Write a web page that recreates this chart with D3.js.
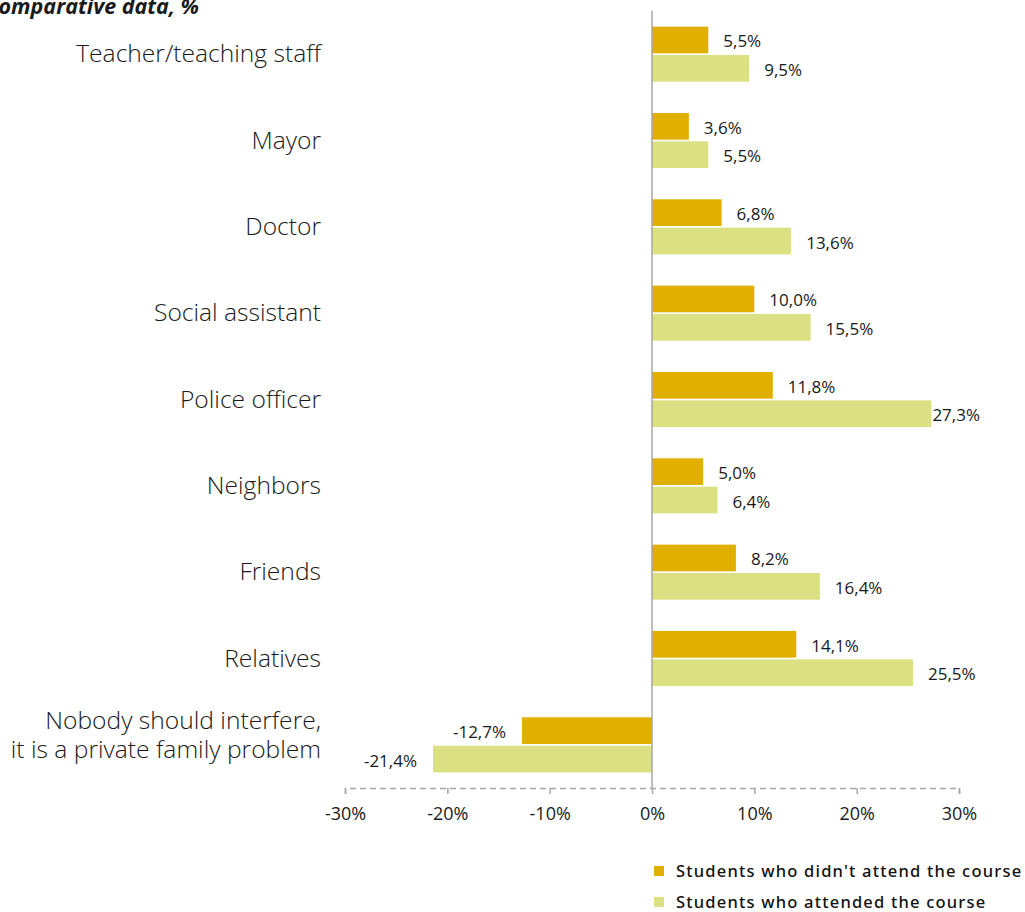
<!DOCTYPE html>
<html>
<head>
<meta charset="utf-8">
<script src="https://cdn.jsdelivr.net/npm/d3@7"></script>
<style>
  html, body { margin: 0; padding: 0; background: #ffffff; }
  svg { display: block; }
</style>
</head>
<body>
<svg id="chart" width="1025" height="912"></svg>
<script>
// Who should step in: share of answers by group of students
const categories = [
  "Teacher/teaching staff",
  "Mayor",
  "Doctor",
  "Social assistant",
  "Police officer",
  "Neighbors",
  "Friends",
  "Relatives",
  "Nobody should interfere,\nit is a private family problem"
];
const seriesNames = [
  "Students who didn't attend the course",
  "Students who attended the course"
];
const notAttended = [5.5, 3.6, 6.8, 10.0, 11.8, 5.0, 8.2, 14.1, -12.7];
const attended = [9.5, 5.5, 13.6, 15.5, 27.3, 6.4, 16.4, 25.5, -21.4];
const tickValues = [-30, -20, -10, 0, 10, 20, 30];
const colors = ["#E0AF00", "#DBE083"];
const title = "Comparative data, %";

const svg = d3.select("#chart");
const fontMain = "'Open Sans', 'Noto Sans', sans-serif";

const x = d3.scaleLinear().domain([-30, 30]).range([345, 959]);
const y = d3.scaleBand().domain(categories).range([11, 788]).padding(0);
const ySeries = d3.scaleBand().domain(seriesNames).range([0, y.bandwidth()])
  .paddingInner(0.06).paddingOuter(0.55);

const rows = categories.map((c, i) => ({ cat: c, values: [notAttended[i], attended[i]] }));

// title (runs off the left edge)
svg.append("text")
  .attr("x", 199).attr("y", 14)
  .attr("text-anchor", "end")
  .style("font-family", fontMain)
  .style("font-weight", 700)
  .style("font-style", "italic")
  .style("font-size", "21.5px")
  .attr("fill", "#1a1a1a")
  .text(title);

// bars
const groups = svg.append("g").selectAll("g.row")
  .data(rows).join("g")
  .attr("class", "row")
  .attr("transform", d => `translate(0,${y(d.cat)})`);

groups.selectAll("rect")
  .data(d => d.values.map((v, k) => ({ v, s: seriesNames[k], k })))
  .join("rect")
  .attr("x", d => x(Math.min(0, d.v)))
  .attr("width", d => Math.abs(x(d.v) - x(0)))
  .attr("y", d => ySeries(d.s))
  .attr("height", ySeries.bandwidth())
  .attr("fill", d => colors[d.k]);

// value labels
const fmt = v => d3.format(".1f")(v).replace(".", ",").replace("−", "-") + "%";
const labelRight = 980;
groups.selectAll("text.val")
  .data(d => d.values.map((v, k) => ({ v, s: seriesNames[k], k })))
  .join("text")
  .attr("class", "val")
  .style("font-family", fontMain)
  .style("font-size", "17px")
  .attr("fill", "#1a1a1a")
  .attr("y", d => ySeries(d.s) + ySeries.bandwidth() / 2 + 7.5)
  .text(d => fmt(d.v))
  .each(function (d) {
    const t = d3.select(this);
    const w = this.getComputedTextLength();
    if (d.v >= 0) {
      let xs = x(d.v) + 15;
      if (xs + w > labelRight) xs = Math.max(x(d.v), labelRight - w);
      t.attr("x", xs).attr("text-anchor", "start");
    } else {
      t.attr("x", x(d.v) - 16).attr("text-anchor", "end");
    }
  });

// category labels
svg.append("g").selectAll("text")
  .data(categories).join("text")
  .attr("text-anchor", "end")
  .style("font-family", fontMain)
  .style("font-weight", 300)
  .style("font-size", "24.6px")
  .attr("fill", "#1a1a1a")
  .each(function (c) {
    const lines = c.split("\n");
    const cy = y(c) + y.bandwidth() / 2;
    const lh = 29;
    const first = lines.length === 1 ? cy + 8 : cy - 16;
    d3.select(this).selectAll("tspan")
      .data(lines).join("tspan")
      .attr("x", 321)
      .attr("y", (l, i) => first + i * lh)
      .text(l => l);
  });

// zero line
svg.append("line")
  .attr("x1", x(0)).attr("x2", x(0))
  .attr("y1", 11).attr("y2", 788)
  .attr("stroke", "#A6A6A6").attr("stroke-width", 1.5);

// x axis
const xAxis = d3.axisBottom(x)
  .tickValues(tickValues)
  .tickSize(6)
  .tickPadding(13)
  .tickFormat(d => d + "%");

const ax = svg.append("g")
  .attr("transform", "translate(0,788)")
  .call(xAxis);
ax.select(".domain")
  .attr("stroke", "#A6A6A6")
  .attr("stroke-width", 1.5)
  .attr("stroke-dasharray", "6,4");
ax.selectAll(".tick line").attr("stroke", "#A6A6A6").attr("stroke-width", 1.5);
ax.selectAll(".tick text")
  .style("font-family", fontMain)
  .style("font-size", "18px")
  .attr("fill", "#1a1a1a")
  .text(d => (d < 0 ? "-" + Math.abs(d) : d) + "%");

// legend
const legend = svg.append("g").attr("transform", "translate(654,0)");
const ly = d3.scalePoint().domain(seriesNames).range([871, 902]);
legend.selectAll("rect")
  .data(seriesNames).join("rect")
  .attr("x", 0).attr("y", d => ly(d) - 5)
  .attr("width", 10).attr("height", 10)
  .attr("fill", (d, i) => colors[i]);
legend.selectAll("text")
  .data(seriesNames).join("text")
  .attr("x", 22).attr("y", d => ly(d) + 6)
  .style("font-family", "'Noto Sans', sans-serif")
  .style("font-weight", 500)
  .style("font-size", "16.5px")
  .style("letter-spacing", "1.2px")
  .attr("fill", "#111")
  .text(d => d);
</script>
</body>
</html>
